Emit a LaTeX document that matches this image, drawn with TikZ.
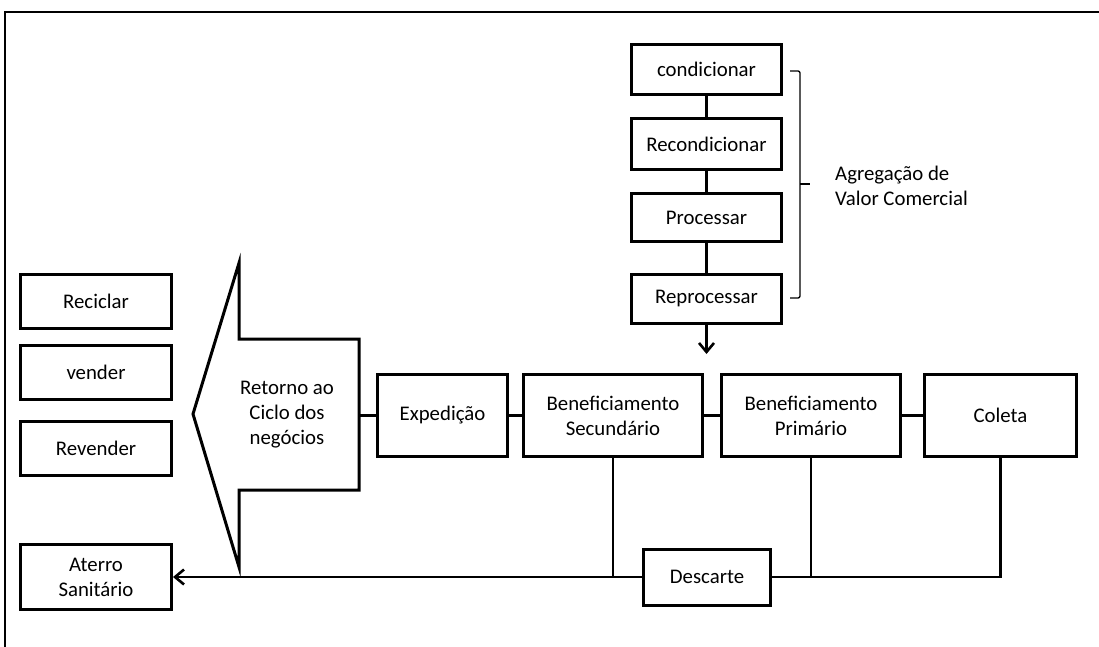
\documentclass[tikz,border=0pt]{standalone}
\usepackage{fontspec}
\setmainfont{Carlito}
\usetikzlibrary{arrows.meta}
\begin{document}
\begin{tikzpicture}[x=1pt,y=-1pt,
  box/.style={draw, line width=3pt, inner sep=0pt, align=center,
    font=\fontsize{20.8}{25}\selectfont},
  conn/.style={line width=2.6pt},
  arr/.style={line width=2.6pt, -{Straight Barb[length=9pt,width=15pt,line width=2.6pt]}},
  lbl/.style={font=\fontsize{20.8}{25}\selectfont, align=left, inner sep=0pt}]
\useasboundingbox (0,0) rectangle (1099,647);
% frame
\draw[line width=1.2pt] (5,647) -- (5,12) -- (1099,12);
% vertical stack
\node[box, minimum width=150pt, minimum height=50pt] (cond) at (706.5,69.5) {condicionar};
\node[box, minimum width=150pt, minimum height=51pt] (recond) at (706.5,144) {Recondicionar};
\node[box, minimum width=150pt, minimum height=48pt] (proc) at (706.5,217.5) {Processar};
\node[box, minimum width=150pt, minimum height=49pt] (reproc) at (706.5,299) {Reprocessar};
\coordinate (arrtip) at (706.5,354);
\draw[conn] (cond.south) -- (recond.north);
\draw[conn] (recond.south) -- (proc.north);
\draw[conn] (proc.south) -- (reproc.north);
\draw[arr] (reproc.south) -- (arrtip);
% brace
\draw[line width=1.3pt, rounded corners=2pt] (790,71) -- (800,71) -- (800,298) -- (790,298);
\draw[line width=1.3pt] (800,184) -- (810,184);
\node[lbl, anchor=west] (agreg) at (835,185.5) {Agregação de\\Valor Comercial};
% left column
\node[box, minimum width=151pt, minimum height=54pt] (recic) at (96,301.5) {Reciclar};
\node[box, minimum width=151pt, minimum height=54pt] (vend) at (96,372.5) {vender};
\node[box, minimum width=151pt, minimum height=54pt] (revend) at (96,448.5) {Revender};
\node[box, minimum width=151pt, minimum height=65pt] (aterro) at (96,577) {Aterro\\Sanitário};
% big arrow
\draw[line width=3pt, line join=miter] (359,339) -- (239,339) -- (239,263) -- (193,414) -- (239,567) -- (239,490) -- (359,490) -- cycle;
\node[lbl, align=center] (ret) at (287,415) {Retorno ao\\Ciclo dos\\negócios};
\coordinate (arrowR) at (359,415.5);
% main row
\node[box, minimum width=130pt, minimum height=82pt] (exp) at (442.5,415.5) {Expedição};
\node[box, minimum width=179pt, minimum height=82pt] (bsec) at (613,415.5) {Beneficiamento\\Secundário};
\node[box, minimum width=179pt, minimum height=82pt] (bprim) at (811,415.5) {Beneficiamento\\Primário};
\node[box, minimum width=152pt, minimum height=82pt] (col) at (1000.5,415.5) {Coleta};
\draw[conn] (arrowR) -- (exp.west);
\draw[conn] (exp.east) -- (bsec.west);
\draw[conn] (bsec.east) -- (bprim.west);
\draw[conn] (bprim.east) -- (col.west);
% discard
\node[box, minimum width=127pt, minimum height=56pt] (desc) at (707,577) {Descarte};
\draw[arr] (desc.west) -- (aterro.east);
\draw[conn] (bsec.south) -- (bsec.south |- desc.west);
\draw[conn] (bprim.south) -- (bprim.south |- desc.east);
\draw[conn] (col.south) |- (desc.east);
\end{tikzpicture}
\end{document}
